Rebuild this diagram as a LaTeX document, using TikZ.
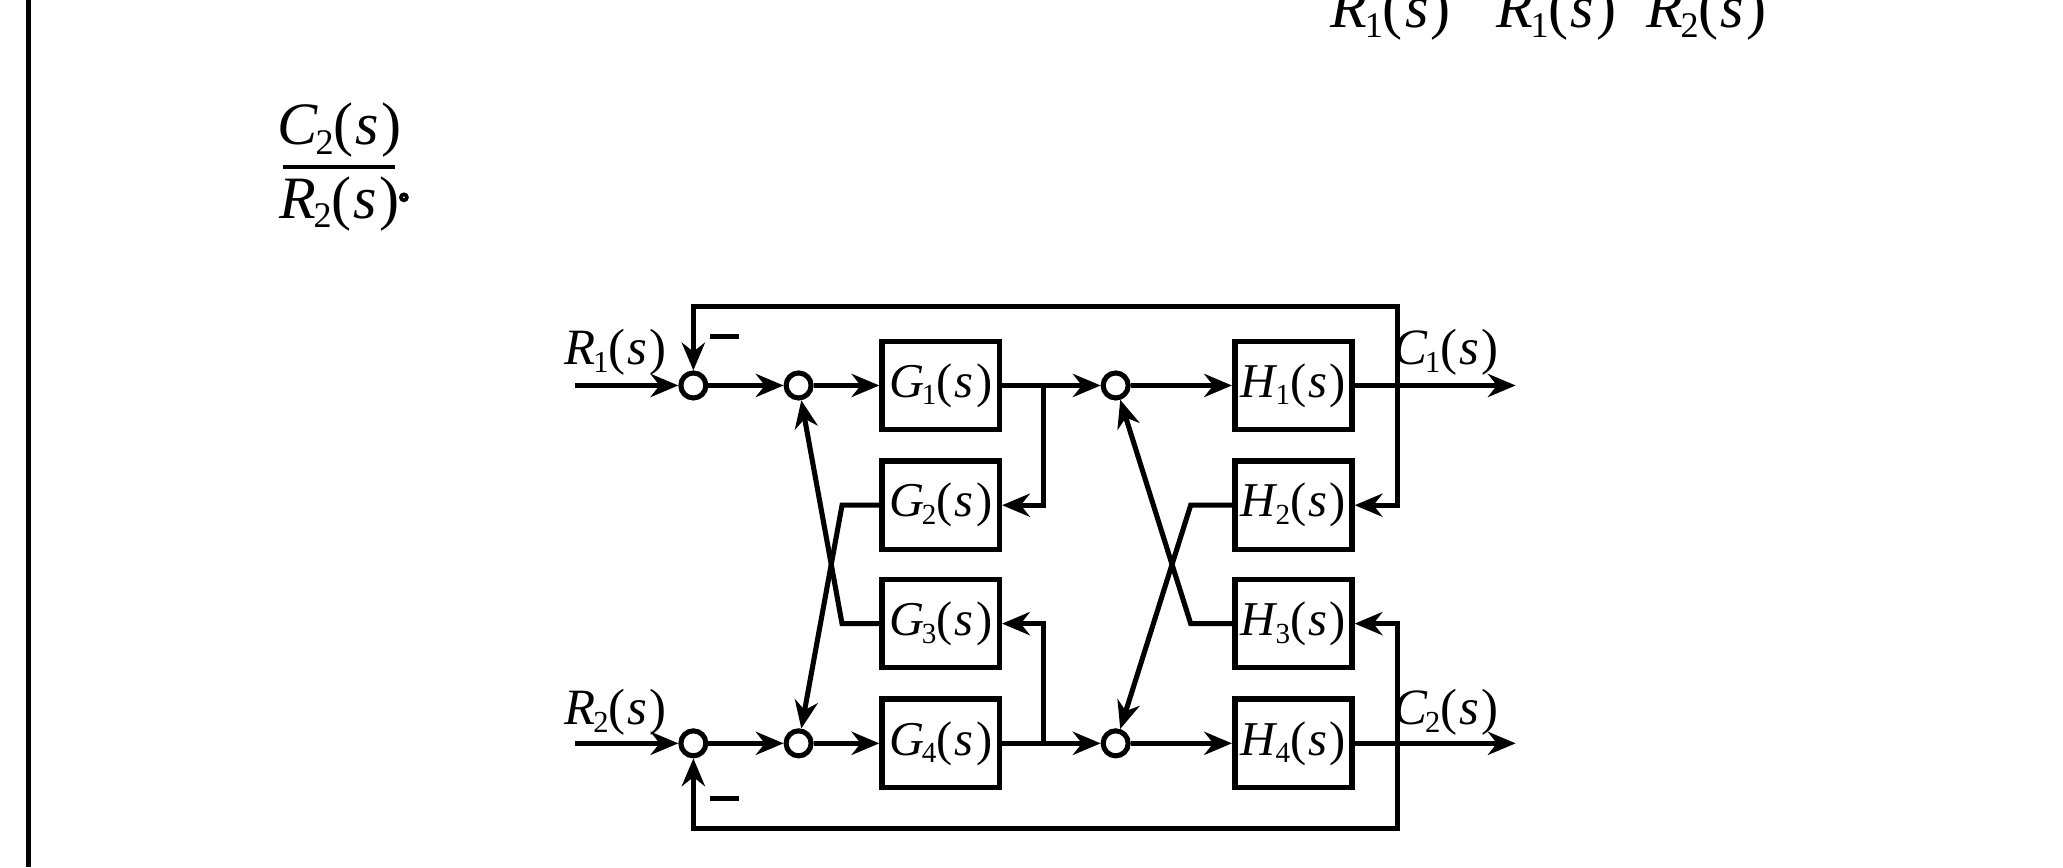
\documentclass[tikz,border=0pt]{standalone}
\usepackage{fontspec}
\setmainfont{Liberation Serif}
\usetikzlibrary{arrows.meta}
\newcommand{\tfn}[2]{\textit{#1}\kern-0.5pt\raisebox{-0.35ex}{\scalebox{0.6}{#2}}(\kern0.5pt\textit{s}\kern0.5pt)}
\begin{document}
\begin{tikzpicture}[x=0.01cm,y=-0.01cm,
  every node/.style={font=\fontsize{11}{13}\selectfont,inner sep=1pt},
  blk/.style={draw,line width=1.2pt,minimum width=0.89cm,minimum height=0.67cm,inner sep=0pt,font=\fontsize{10.5}{12}\selectfont},
  sum/.style={draw,circle,line width=1.1pt,minimum size=0.19cm,inner sep=0pt},
  ln/.style={line width=1.1pt},
  ar/.style={ln,-{Stealth[length=6pt,width=5pt]}}]
\useasboundingbox (0,0) rectangle (1568,659);
\clip (0,0) rectangle (1568,659);
\draw[line width=1.1pt] (22,0) -- (22,659);
% top fragments
\node[font=\fontsize{13}{15}\selectfont] (f1) at (1057,10) {\tfn{R}{1}};
\node[font=\fontsize{13}{15}\selectfont] (f2) at (1183,10) {\tfn{R}{1}};
\node[font=\fontsize{13}{15}\selectfont] (f3) at (1297,10) {\tfn{R}{2}};
\node[font=\fontsize{13}{15}\selectfont,anchor=south] (num) at (258,124) {\tfn{C}{2}};
\node[font=\fontsize{13}{15}\selectfont,anchor=north] (den) at (258,130) {\tfn{R}{2}};
\draw[line width=0.9pt] (215,127) -- (300,127);
\node[draw,circle,line width=0.8pt,minimum size=0.045cm,inner sep=0pt] (dot) at (307,150) {};
% blocks
\node[blk] (G1) at (715,293) {\tfn{G}{1}};
\node[blk] (G2) at (715,384) {\tfn{G}{2}};
\node[blk] (G3) at (715,474) {\tfn{G}{3}};
\node[blk] (G4) at (715,565) {\tfn{G}{4}};
\node[blk] (H1) at (983,293) {\tfn{H}{1}};
\node[blk] (H2) at (983,384) {\tfn{H}{2}};
\node[blk] (H3) at (983,474) {\tfn{H}{3}};
\node[blk] (H4) at (983,565) {\tfn{H}{4}};
\node[sum] (S1) at (527,293) {};
\node[sum] (S2) at (607,293) {};
\node[sum] (S3) at (848,293) {};
\node[sum] (T1) at (527,565) {};
\node[sum] (T2) at (607,565) {};
\node[sum] (T3) at (848,565) {};
\coordinate (in1) at (437,293); \coordinate (in2) at (437,565);
\coordinate (o1) at (1152,293); \coordinate (o2) at (1152,565);
\coordinate (b1) at (793,293); \coordinate (b2) at (793,565);
\coordinate (c1) at (1062,293); \coordinate (c2) at (1062,565);
% forward paths
\draw[ar] (in1) -- (S1);
\draw[ar] (S1) -- (S2);
\draw[ar] (S2) -- (G1);
\draw[ar] (G1) -- (S3);
\draw[ar] (S3) -- (H1);
\draw[ar] (H1) -- (o1);
\draw[ar] (in2) -- (T1);
\draw[ar] (T1) -- (T2);
\draw[ar] (T2) -- (G4);
\draw[ar] (G4) -- (T3);
\draw[ar] (T3) -- (H4);
\draw[ar] (H4) -- (o2);
% G cross links
\draw[ar] (b1) |- (G2.east);
\draw[ar] (b2) |- (G3.east);
\draw[ar] (G2.west) -- (640,384) -- (T2);
\draw[ar] (G3.west) -- (640,474) -- (S2);
% H cross links
\draw[ar] (c1) |- (H2.east);
\draw[ar] (c2) |- (H3.east);
\draw[ar] (H2.west) -- (905,384) -- (T3);
\draw[ar] (H3.west) -- (905,474) -- (S3);
% outer feedback
\draw[ar] (c1) -- (1062,233) -| (S1);
\draw[ar] (c2) -- (1062,630) -| (T1);
% labels
\node (lr1) at (468,268) {\tfn{R}{1}};
\node (lr2) at (468,541) {\tfn{R}{2}};
\node (lc1) at (1099,268) {\tfn{C}{1}};
\node (lc2) at (1099,541) {\tfn{C}{2}};
\draw[ln] (540,256) -- (562,256);
\draw[ln] (540,607) -- (562,607);
\end{tikzpicture}
\end{document}
